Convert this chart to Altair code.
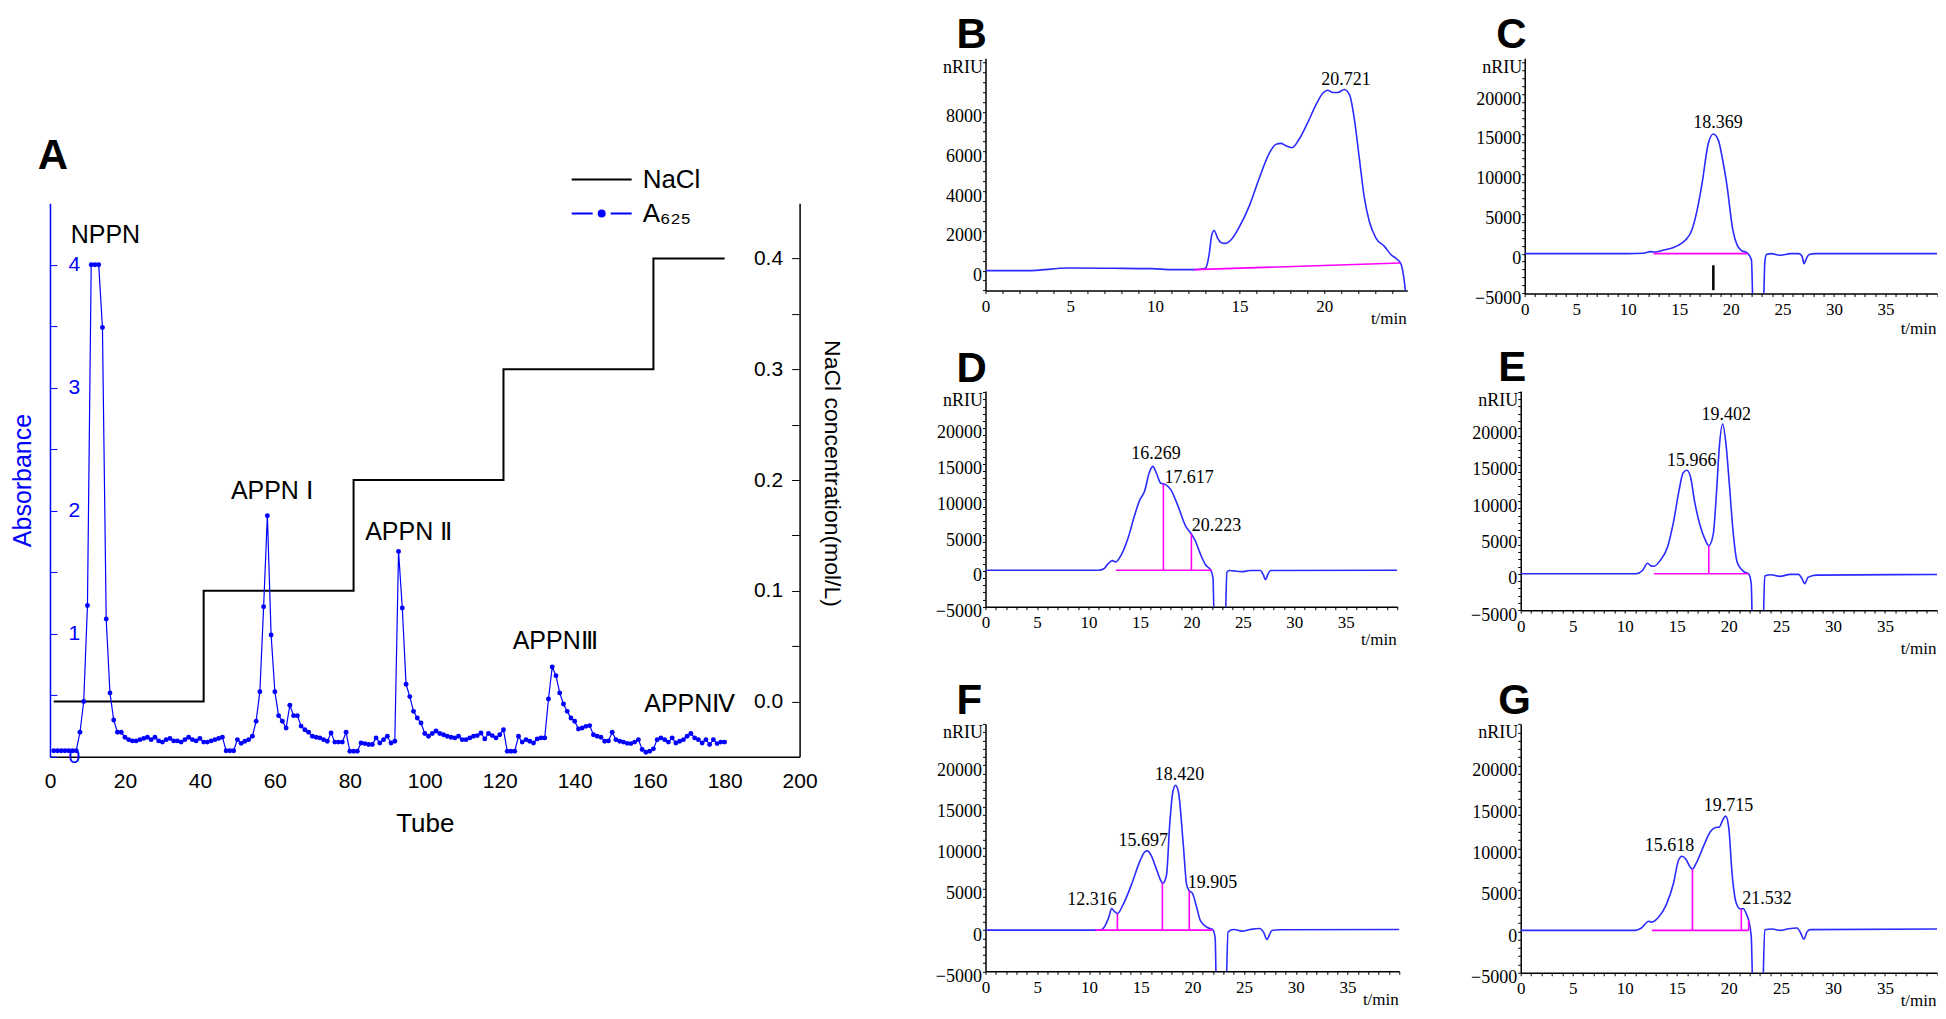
import altair as alt
import pandas as pd

SANS = "Liberation Sans"
SERIF = "Liberation Serif"
BLUE = "#0000ff"
CURVE = "#2b2bff"
MAG = "#ff00ff"

# ---------------- Panel A: DEAE elution profile ----------------
tube = list(range(1, 181))
a625 = [
    0.05, 0.05, 0.05, 0.05, 0.05, 0.05, 0.05, 0.20, 0.45, 1.23,
    4.00, 4.00, 4.00, 3.49, 1.12, 0.52, 0.30, 0.20, 0.20, 0.16,
    0.14, 0.13, 0.13, 0.14, 0.15, 0.16, 0.14, 0.16, 0.13, 0.12,
    0.14, 0.15, 0.13, 0.13, 0.12, 0.14, 0.16, 0.14, 0.13, 0.15,
    0.12, 0.12, 0.13, 0.14, 0.15, 0.16, 0.05, 0.05, 0.05, 0.14,
    0.11, 0.127, 0.14, 0.167, 0.29, 0.53, 1.22, 1.96, 0.99, 0.53,
    0.335, 0.29, 0.235, 0.42, 0.335, 0.335, 0.25, 0.22, 0.20, 0.167,
    0.16, 0.154, 0.14, 0.127, 0.194, 0.12, 0.12, 0.12, 0.20, 0.046,
    0.046, 0.046, 0.113, 0.108, 0.10, 0.10, 0.154, 0.113, 0.14, 0.167,
    0.113, 0.127, 1.67, 1.21, 0.59, 0.49, 0.37, 0.316, 0.275, 0.19,
    0.167, 0.19, 0.21, 0.19, 0.18, 0.167, 0.16, 0.154, 0.167, 0.14,
    0.14, 0.154, 0.167, 0.173, 0.194, 0.146, 0.19, 0.173, 0.154, 0.18,
    0.22, 0.046, 0.046, 0.046, 0.167, 0.12, 0.14, 0.127, 0.113, 0.146,
    0.154, 0.154, 0.47, 0.73, 0.66, 0.52, 0.43, 0.37, 0.316, 0.29,
    0.227, 0.235, 0.248, 0.254, 0.18, 0.167, 0.16, 0.127, 0.13, 0.20,
    0.14, 0.127, 0.12, 0.11, 0.108, 0.12, 0.14, 0.06, 0.038, 0.046,
    0.065, 0.14, 0.154, 0.14, 0.12, 0.154, 0.113, 0.127, 0.14, 0.167,
    0.19, 0.154, 0.14, 0.113, 0.14, 0.10, 0.14, 0.108, 0.12, 0.12,
]
nacl_tube = [1, 41, 81, 121, 161, 180]
nacl_conc = [0.0, 0.1, 0.2, 0.3, 0.4, 0.4]
peak_names = ["NPPN", "APPN Ⅰ", "APPN Ⅱ", "APPNⅢ", "APPNⅣ"]
peak_tube = [14.8, 59.2, 95.7, 134.8, 170.7]
peak_abs = [4.245, 2.16, 1.83, 0.945, 0.426]
legend_series = ["NaCl", "A₆₂₅"]
panel_a_label = ["A"]

# ---------------- Panels B-G: HPGPC chromatograms ----------------
b_t = [0, 2.5, 4.9, 7.5, 9.85, 11.0, 12.33, 12.8, 13.0, 13.2, 13.36, 13.5, 13.7, 13.9, 14.15,
       14.5, 15.0, 15.6, 16.16, 16.75, 17.14, 17.44, 17.73, 18.09, 18.52, 19.0, 19.5, 19.9,
       20.2, 20.5, 20.8, 21.18, 21.5, 21.77, 22.07, 22.37, 22.66, 23.05, 23.55, 23.94, 24.33,
       24.53, 24.67, 24.79, 24.9]
b_y = [0, 0, 134, 120, 100, 50, 50, 84, 134, 800, 1808, 2025, 1640, 1423, 1373,
       1557, 2226, 3314, 4654, 5909, 6361, 6411, 6294, 6194, 6629, 7416, 8337, 8922,
       9090, 8973, 8973, 9123, 8839, 7667, 5658, 3649, 2477, 1641, 1222, 803, 552,
       335, -200, -1004, -2000]
c_t = [0, 10, 11.5, 12.2, 12.6, 13.5, 14.9, 15.6, 16.2, 16.7, 17.2, 17.8, 18.3, 18.8, 19.2,
       19.6, 20.2, 20.6, 21.0, 21.6, 22.0, 22.2, 23.1, 23.3, 23.45, 23.9, 24.8, 25.8, 26.6,
       26.9, 27.1, 27.3, 27.6, 28.2, 40]
c_y = [0, 0, 50, 250, 200, 450, 1040, 1700, 2900, 5300, 8750, 13750, 15000, 14170, 11800,
       8750, 2920, 1100, 417, 80, -830, -9000, -9000, -1000, -100, 0, -200, 0, 0,
       -300, -1250, -700, -100, 0, 0]
d_t = [0, 11.0, 11.5, 11.9, 12.3, 12.66, 13.2, 13.85, 14.5, 15.0, 15.45, 15.9, 16.25, 16.6,
       17.0, 17.5, 18.0, 18.65, 19.45, 20.0, 20.4, 20.9, 21.4, 21.85, 22.1, 22.25, 23.25,
       23.45, 23.7, 24.1, 24.9, 25.7, 26.7, 27.0, 27.2, 27.45, 27.7, 40]
d_y = [100, 100, 300, 980, 1440, 1260, 2280, 4610, 7870, 9970, 11140, 13700, 14630, 13700,
       12300, 12070, 11370, 9270, 6240, 5170, 4150, 2280, 790, 186, -1000, -9000, -9000,
       -200, 50, 0, -100, 50, 50, -600, -1210, -400, 50, 100]
e_t = [0, 11.1, 11.7, 12.2, 12.5, 12.8, 13.4, 14.1, 14.7, 15.2, 15.6, 15.96, 16.3, 16.7,
       17.2, 17.7, 18.07, 18.5, 18.8, 19.1, 19.4, 19.7, 20.05, 20.4, 20.8, 21.5, 21.9, 22.15,
       22.3, 23.25, 23.45, 24.0, 24.9, 25.9, 26.7, 27.0, 27.3, 27.6, 28.4, 40]
e_y = [0, 0, 450, 1450, 1090, 1045, 1820, 3640, 7270, 11360, 13860, 14230, 13400, 10000,
       6820, 4770, 3860, 5450, 10900, 17730, 20590, 18180, 12270, 5900, 1590, 230, 0, -1360,
       -9000, -9000, -300, -130, -360, -80, -80, -600, -1360, -500, -180, -100]
f_t = [0, 10.6, 11.25, 11.9, 12.2, 12.45, 12.75, 13.3, 14.1, 14.9, 15.4, 15.65, 16.0, 16.5,
       17.0, 17.15, 17.5, 17.8, 18.1, 18.37, 18.66, 19.1, 19.45, 19.7, 20.0, 20.35, 20.8,
       21.5, 21.95, 22.2, 22.35, 23.2, 23.45, 24.0, 24.8, 25.6, 26.5, 26.9, 27.2, 27.7, 28.5, 40]
f_y = [0, 0, 80, 1480, 2600, 2280, 2000, 3080, 5480, 8280, 9480, 9600, 9080, 7480,
       5880, 5680, 6680, 12680, 16680, 17560, 16680, 10680, 5480, 4760, 4480, 3080, 1080,
       280, 80, -920, -9000, -9000, -200, 80, -120, 80, 200, -300, -1120, -40, 40, 80]
g_t = [0, 11.0, 11.6, 12.3, 12.6, 13.2, 14.0, 14.7, 15.15, 15.5, 15.86, 16.3, 16.5, 16.9,
       17.6, 18.2, 18.7, 19.1, 19.4, 19.7, 20.0, 20.3, 20.7, 21.1, 21.4, 21.7, 21.9, 22.15,
       22.35, 23.2, 23.45, 24.15, 24.95, 25.75, 26.55, 26.9, 27.2, 27.5, 27.8, 40]
g_y = [120, 120, 400, 1220, 1100, 1630, 3250, 5890, 8540, 9060, 8740, 7720, 7520, 8330,
       10370, 11990, 12520, 12600, 13400, 13900, 12400, 7110, 3460, 2720, 2720, 2030, 1340, -610,
       -9000, -9000, 200, 280, 120, 320, 400, -200, -935, -100, 200, 280]

# integration baselines (start t, end t, start y, end y)
b_base = [12.33, 24.5, 50, 385]
c_base = [12.5, 21.6, 0, 0]
d_base = [12.66, 22.0, 100, 100]
e_base = [12.8, 21.9, 0, 0]
f_base = [10.6, 21.95, 0, 0]
g_base = [12.6, 21.9, 120, 120]
# drop lines (t, top y)
d_drop_t, d_drop_y = [17.28, 20.0], [12170, 5170]
e_drop_t, e_drop_y = [18.07], [3860]
f_drop_t, f_drop_y = [12.75, 17.1, 19.7], [2000, 5700, 4760]
g_drop_t, g_drop_y = [16.5, 21.2, 21.9], [7520, 2720, 1340]
# peak retention-time labels
b_lab, b_lab_t, b_lab_y = ["20.721"], [21.28], [9590]
c_lab, c_lab_t, c_lab_y = ["18.369"], [18.76], [16350]
d_lab, d_lab_t, d_lab_y = ["16.269", "17.617", "20.223"], [16.57, 19.78, 22.44], [16360, 13000, 6340]
e_lab, e_lab_t, e_lab_y = ["15.966", "19.402"], [16.43, 19.74], [15450, 21820]
f_lab, f_lab_t, f_lab_y = ["12.316", "15.697", "18.420", "19.905"], [10.29, 15.24, 18.75, 21.95], [3600, 10760, 18760, 5760]
g_lab, g_lab_t, g_lab_y = ["15.618", "19.715", "21.532"], [14.29, 19.97, 23.67], [10240, 15160, 3940]
c_marker = [18.3, -1460, -4580]


def chrom_panel(letter, t, sig, xmax, ydom, ystep, ylab_step, ylab_max, width, height,
                base, drop_t, drop_y, lab, lab_t, lab_y, title_offset, title_dx, tmin_y,
                marker=None):
    xs = alt.Scale(domain=[0, xmax], nice=False, zero=False)
    ys = alt.Scale(domain=ydom, nice=False, zero=False)
    xvals = list(range(0, int(xmax) + 1))
    yvals = [v for v in range(int(ydom[0]), int(ydom[1]) + 1, ystep)]
    ymin_lab = ydom[0] if ylab_step == 5000 else 0
    xaxis = alt.Axis(
        values=xvals,
        labelExpr=f"datum.value % 5 == 0 && datum.value < {int(xmax) - 1} ? format(datum.value, 'd') : ''",
        labelFont=SERIF, labelFontSize=17, labelColor="black", labelPadding=5,
        tickSize=3, tickColor="black", domainColor="black", domainWidth=1.5,
        labelOverlap=False, labelFlush=False, grid=False,
        title="t/min", titleFont=SERIF, titleFontSize=17, titleFontWeight="normal",
        titleColor="black", titleAlign="right", titleBaseline="middle",
        titleX=width - 1, titleY=tmin_y,
    )
    yaxis = alt.Axis(
        values=yvals,
        labelExpr=(f"datum.value % {ylab_step} == 0 && datum.value >= {ymin_lab}"
                   f" && datum.value <= {ylab_max} ? format(datum.value, 'd') : ''"),
        labelFont=SERIF, labelFontSize=18, labelColor="black", labelPadding=1, labelOffset=5,
        tickSize=3, tickColor="black", domainColor="black", domainWidth=1.5,
        labelOverlap=False, labelFlush=False, grid=False,
        title="nRIU", titleFont=SERIF, titleFontSize=18, titleFontWeight="normal",
        titleColor="black", titleAngle=0, titleAlign="right", titleBaseline="middle",
        titleX=-3, titleY=9,
    )
    curve = alt.Chart(pd.DataFrame({"t": t, "s": sig})).mark_line(
        color=CURVE, strokeWidth=1.6, interpolate="monotone", clip=True
    ).encode(x=alt.X("t:Q", scale=xs, axis=xaxis), y=alt.Y("s:Q", scale=ys, axis=yaxis))
    base_df = pd.DataFrame({"t0": [base[0]], "t1": [base[1]], "y0": [base[2]], "y1": [base[3]]})
    base_rule = alt.Chart(base_df).mark_rule(color=MAG, strokeWidth=1.6).encode(
        x=alt.X("t0:Q", scale=xs, axis=xaxis), x2="t1:Q",
        y=alt.Y("y0:Q", scale=ys, axis=yaxis), y2="y1:Q")
    layers = [curve, base_rule]
    if drop_t:
        drop_df = pd.DataFrame({"t": drop_t, "top": drop_y, "bot": [base[2]] * len(drop_t)})
        layers.append(alt.Chart(drop_df).mark_rule(color=MAG, strokeWidth=1.6).encode(
            x=alt.X("t:Q", scale=xs, axis=xaxis),
            y=alt.Y("bot:Q", scale=ys, axis=yaxis), y2="top:Q"))
    if marker:
        mk_df = pd.DataFrame({"t": [marker[0]], "a": [marker[1]], "b": [marker[2]]})
        layers.append(alt.Chart(mk_df).mark_rule(color="black", strokeWidth=2.5).encode(
            x=alt.X("t:Q", scale=xs, axis=xaxis),
            y=alt.Y("a:Q", scale=ys, axis=yaxis), y2="b:Q"))
    lab_df = pd.DataFrame({"t": lab_t, "y": lab_y, "txt": lab})
    layers.append(alt.Chart(lab_df).mark_text(font=SERIF, fontSize=18, color="black",
                                              baseline="middle", align="center").encode(
        x=alt.X("t:Q", scale=xs, axis=xaxis), y=alt.Y("y:Q", scale=ys, axis=yaxis), text="txt:N"))
    return alt.layer(*layers).properties(
        width=width, height=height,
        title=alt.TitleParams(letter, anchor="start", frame="group", offset=title_offset,
                              dx=title_dx, font=SANS, fontSize=42, fontWeight="bold",
                              color="black"),
    )


B = chrom_panel("B", b_t, b_y, 24.9, [-1000, 10700], 500, 2000, 8000, 422, 232.4,
                b_base, [], [], b_lab, b_lab_t, b_lab_y, 1, -29, 28)
C = chrom_panel("C", c_t, c_y, 40, [-5000, 24500], 1000, 5000, 20000, 412.5, 235.4,
                c_base, [], [], c_lab, c_lab_t, c_lab_y, 1, -28.5, 35, marker=c_marker)
D = chrom_panel("D", d_t, d_y, 40, [-5000, 25170], 1000, 5000, 20000, 412, 215.7,
                d_base, d_drop_t, d_drop_y, d_lab, d_lab_t, d_lab_y, -3, -29, 33)
E = chrom_panel("E", e_t, e_y, 40, [-5000, 25120], 1000, 5000, 20000, 416.5, 219.2,
                e_base, e_drop_t, e_drop_y, e_lab, e_lab_t, e_lab_y, -2.3, -22.5, 38)
F = chrom_panel("F", f_t, f_y, 40, [-5000, 25000], 1000, 5000, 20000, 414, 247.6,
                f_base, f_drop_t, f_drop_y, f_lab, f_lab_t, f_lab_y, -2.8, -29, 28)
G = chrom_panel("G", g_t, g_y, 40, [-5000, 25030], 1000, 5000, 20000, 416.5, 249,
                g_base, g_drop_t, g_drop_y, g_lab, g_lab_t, g_lab_y, -2.8, -22.5, 28)

# ---------------- Panel A chart ----------------
dfA = pd.DataFrame({"tube": tube, "abs": a625})
dfN = pd.DataFrame({"tube": nacl_tube, "nacl": nacl_conc})
dfP = pd.DataFrame({"tube": peak_tube, "abs": peak_abs, "name": peak_names})
dfL = pd.DataFrame({"series": legend_series})

xA_scale = alt.Scale(domain=[0, 200], nice=False, zero=False)
xA_axis = alt.Axis(values=list(range(0, 201, 20)), format="d", labelFont=SANS, labelFontSize=21,
                   labelColor="black", ticks=False, tickSize=0, labelPadding=14,
                   domainColor="black", domainWidth=1.5, labelOverlap=False, labelFlush=False,
                   grid=False, title="Tube", titleFont=SANS, titleFontSize=26,
                   titleFontWeight="normal", titlePadding=19, titleColor="black")
abs_scale = alt.Scale(domain=[0, 4.5], nice=False, zero=False)
abs_axis = alt.Axis(orient="right", offset=-750, values=[i * 0.5 for i in range(9)],
                    labelExpr="datum.value % 1 == 0 ? format(datum.value, 'd') : ''",
                    labelFont=SANS, labelFontSize=21, labelColor=BLUE, tickColor=BLUE,
                    domainColor=BLUE, domainWidth=1.5, tickSize=7, labelPadding=11,
                    labelOverlap=False, labelFlush=False, grid=False,
                    title="Absorbance", titleColor=BLUE, titleFont=SANS, titleFontSize=25,
                    titleFontWeight="normal", titleAngle=270, titleX=-27, titleY=277,
                    titleAlign="center", titleBaseline="middle")
nacl_scale = alt.Scale(domain=[-0.05, 0.45], nice=False, zero=False)
nacl_axis = alt.Axis(orient="left", offset=-750, values=[round(0.05 * i, 2) for i in range(9)],
                     labelExpr="round(datum.value * 100) % 10 == 0 ? format(datum.value, '.1f') : ''",
                     labelFont=SANS, labelFontSize=21, labelColor="black", tickColor="black",
                     domainColor="black", domainWidth=1.5, tickSize=8, labelPadding=9,
                     labelOverlap=False, labelFlush=False, grid=False,
                     title="NaCl concentration(mol/L)", titleFont=SANS, titleFontSize=23,
                     titleFontWeight="normal", titleColor="black", titleAngle=90,
                     titleX=32, titleY=270, titleAlign="center", titleBaseline="middle")

xA = alt.X("tube:Q", scale=xA_scale, axis=xA_axis)
nacl_layer = alt.Chart(dfN).mark_line(interpolate="step-after", color="black", strokeWidth=2).encode(
    x=xA, y=alt.Y("nacl:Q", scale=nacl_scale, axis=nacl_axis))
yAbs = alt.Y("abs:Q", scale=abs_scale, axis=abs_axis)
a_line = alt.Chart(dfA).mark_line(color=BLUE, strokeWidth=1.2).encode(x=xA, y=yAbs)
a_pts = alt.Chart(dfA).mark_circle(color=BLUE, size=24, opacity=1).encode(x=xA, y=yAbs)
a_txt = alt.Chart(dfP).mark_text(font=SANS, fontSize=25, color="black", baseline="middle").encode(
    x=xA, y=yAbs, text="name:N")

LINE_PATH = "M-2,0L2,0"
DASHDOT_PATH = ("M-2,0L-0.6,0M0.6,0L2,0M-0.2,0A0.2,0.2,0,1,0,0.2,0"
                "A0.2,0.2,0,1,0,-0.2,0")
# legend is placed relative to the column holding the "A" strip (144.4 px tall) and the plot
leg_def = alt.Legend(orient="none", legendX=536, legendY=105.4, title=None, symbolSize=900,
                     symbolStrokeWidth=2, symbolOpacity=1, labelFont=SANS, labelFontSize=26,
                     labelColor="black", labelOffset=25, rowPadding=5, padding=0)
leg_layer = alt.Chart(dfL).mark_point(size=0, filled=True).encode(
    shape=alt.Shape("series:N", scale=alt.Scale(domain=legend_series, range=[LINE_PATH, DASHDOT_PATH]), legend=leg_def),
    fill=alt.Fill("series:N", scale=alt.Scale(domain=legend_series, range=["black", BLUE]), legend=leg_def),
    stroke=alt.Stroke("series:N", scale=alt.Scale(domain=legend_series, range=["black", BLUE]), legend=leg_def),
)

A = alt.layer(nacl_layer, alt.layer(a_line, a_pts, a_txt), leg_layer).resolve_scale(
    y="independent").properties(width=750, height=554)

# panel letter "A" sits in its own strip above the elution profile
A_label = alt.Chart(pd.DataFrame({"panel": panel_a_label})).mark_text(
    font=SANS, fontSize=42, fontWeight="bold", color="black", dy=25.6
).encode(text="panel:N").properties(width=6, height=144.4)

colA = alt.vconcat(A_label, A, spacing=0, bounds="flush")

rowBC = alt.hconcat(B, C, spacing=117.5, bounds="flush")
rowDE = alt.hconcat(D, E, spacing=123.5, bounds="flush")
rowFG = alt.hconcat(F, G, spacing=121.5, bounds="flush")
R = alt.vconcat(rowBC, rowDE, rowFG, spacing=333, bounds="flush")

chart = alt.hconcat(colA, R, spacing=92, bounds="full").properties(
    padding={"left": 3, "top": 5, "right": 0, "bottom": 0}
).configure_view(stroke=None).configure_axis(grid=False)

chart.save("out.html", embed_options={"renderer": "svg", "actions": False})
